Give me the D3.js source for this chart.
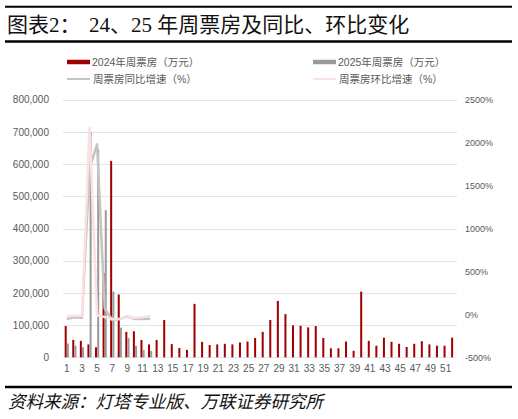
<!DOCTYPE html>
<html>
<head>
<meta charset="utf-8">
<script src="https://cdn.jsdelivr.net/npm/d3@7"></script>
<style>
  body { margin: 0; background: #fff; }
  text { font-family: "Liberation Sans", Arial, "Noto Sans CJK SC", sans-serif; }
</style>
</head>
<body>
<svg id="chart" width="518" height="419"></svg>
<script>
// weeks of the year
var weeks = [1, 2, 3, 4, 5, 6, 7, 8, 9, 10, 11, 12, 13, 14, 15, 16, 17, 18, 19, 20,
  21, 22, 23, 24, 25, 26, 27, 28, 29, 30, 31, 32, 33, 34, 35, 36, 37, 38, 39, 40,
  41, 42, 43, 44, 45, 46, 47, 48, 49, 50, 51, 52];
var weekLabels = [1, 3, 5, 7, 9, 11, 13, 15, 17, 19, 21, 23, 25, 27, 29, 31, 33, 35, 37, 39, 41, 43, 45, 47, 49, 51];

// weekly box office, 万元
var box2024 = [97000, 54000, 51000, 40000, 31000, 262000, 610000, 195000, 79000, 81000,
  54000, 40000, 54000, 116000, 41000, 29000, 23000, 166000, 48000, 38000,
  40000, 42000, 40000, 46000, 49000, 60000, 79000, 116000, 175000, 134000,
  99000, 98000, 93000, 97000, 60000, 28000, 28000, 49000, 20000, 204000,
  51000, 36000, 61000, 48000, 42000, 32000, 42000, 50000, 40000, 36000, 36000, 61000];
var box2025 = [43000, 36000, 31000, 700000, 646000, 457000, 204000, 92000, 60000, 36000, 23000, 20000];

// growth rates, %
var yoyGrowth = [-55, -35, -40, 1700, 1980, 70, -65, -55, -25, -55, -55, -50];
var momGrowth = [-25, -15, -15, 2170, -10, -30, -55, -55, -35, -40, -35, -15];

var leftTicks = [0, 100000, 200000, 300000, 400000, 500000, 600000, 700000, 800000];
var rightTicks = [-500, 0, 500, 1000, 1500, 2000, 2500];

var svg = d3.select("#chart");
var plotLeft = 63, plotRight = 457, plotTop = 99.7, plotBottom = 357.3;

// header
svg.append("line").attr("x1", 5).attr("x2", 512).attr("y1", 6.7).attr("y2", 6.7)
  .style("stroke", "#000").style("stroke-width", 2);
svg.append("line").attr("x1", 5).attr("x2", 512).attr("y1", 41.5).attr("y2", 41.5)
  .style("stroke", "#000").style("stroke-width", 2.5);
svg.append("text").attr("x", 7).attr("y", 32)
  .style("font-family", "'Liberation Serif', 'Noto Sans CJK SC', serif")
  .style("font-size", "21px").style("fill", "#111")
  .text("图表2：");
svg.append("text").attr("x", 89).attr("y", 32)
  .style("font-family", "'Liberation Serif', 'Noto Sans CJK SC', serif")
  .style("font-size", "21px").style("fill", "#111")
  .text("24、25 年周票房及同比、环比变化");

// footer
svg.append("line").attr("x1", 5).attr("x2", 512).attr("y1", 387).attr("y2", 387)
  .style("stroke", "#000").style("stroke-width", 2.5);
svg.append("text").attr("x", 8).attr("y", 408)
  .style("font-family", "'Noto Sans CJK SC', sans-serif")
  .style("font-style", "italic")
  .style("font-size", "17.5px").style("fill", "#111")
  .text("资料来源：灯塔专业版、万联证券研究所");

// scales
var x = d3.scaleBand().domain(weeks).range([plotLeft, plotRight]).paddingInner(0.4).paddingOuter(0.2);
var xInner = d3.scaleBand().domain([0, 1]).range([0, x.bandwidth()]).padding(0.08);
var y = d3.scaleLinear().domain([0, 800000]).range([plotBottom, plotTop]);
var y2 = d3.scaleLinear().domain([-500, 2500]).range([plotBottom, plotTop]);

// left axis with gridlines
var gLeft = svg.append("g").attr("transform", "translate(" + plotLeft + ",0)")
  .call(d3.axisLeft(y).tickValues(leftTicks).tickSizeInner(-(plotRight - plotLeft)).tickSizeOuter(0)
    .tickPadding(14).tickFormat(d3.format(",")));
gLeft.select(".domain").remove();
gLeft.selectAll(".tick line").style("stroke", "#e3e3e3").style("shape-rendering", "crispEdges");
gLeft.selectAll(".tick text").style("font-size", "10px").style("fill", "#595959");

// right axis
var gRight = svg.append("g").attr("transform", "translate(" + plotRight + ",0)")
  .call(d3.axisRight(y2).tickValues(rightTicks).tickSize(0).tickPadding(8)
    .tickFormat(function (d) { return d + "%"; }));
gRight.select(".domain").remove();
gRight.selectAll(".tick text").style("font-size", "9px").style("fill", "#595959");

// bottom axis
var gBottom = svg.append("g").attr("transform", "translate(0," + plotBottom + ")")
  .call(d3.axisBottom(x).tickValues(weekLabels).tickSize(0).tickPadding(8));
gBottom.select(".domain").remove();
gBottom.selectAll(".tick text").style("font-size", "10px").style("fill", "#595959");

// bars
svg.append("g").selectAll("rect").data(box2024).enter().append("rect")
  .attr("x", function (d, i) { return x(weeks[i]) + xInner(0); })
  .attr("y", function (d) { return y(d); })
  .attr("width", xInner.bandwidth())
  .attr("height", function (d) { return plotBottom - y(d); })
  .style("fill", "#a00000");

svg.append("g").selectAll("rect").data(box2025).enter().append("rect")
  .attr("x", function (d, i) { return x(weeks[i]) + xInner(1); })
  .attr("y", function (d) { return y(d); })
  .attr("width", xInner.bandwidth())
  .attr("height", function (d) { return plotBottom - y(d); })
  .style("fill", "#9a9a9a");

// growth lines
var line = d3.line()
  .x(function (d, i) { return x(weeks[i]) + x.bandwidth() / 2; })
  .y(function (d) { return y2(d); });

svg.append("path").datum(yoyGrowth).attr("d", line)
  .style("fill", "none").style("stroke", "#c4c4c4").style("stroke-width", 2.5)
  .style("stroke-linejoin", "round");
svg.append("path").datum(momGrowth).attr("d", line)
  .style("fill", "none").style("stroke", "#fde0e0").style("stroke-width", 2.5)
  .style("stroke-linejoin", "round");

// legend
var legendItems = [
  { label: "2024年周票房（万元）", color: "#a00000", w: 4.5, x: 67, y: 62 },
  { label: "2025年周票房（万元）", color: "#9a9a9a", w: 4.5, x: 313, y: 62 },
  { label: "周票房同比增速（%）", color: "#c4c4c4", w: 2, x: 67, y: 79 },
  { label: "周票房环比增速（%）", color: "#fde0e0", w: 2, x: 313, y: 79 }
];
var legend = svg.append("g").selectAll("g").data(legendItems).enter().append("g");
legend.append("line")
  .attr("x1", function (d) { return d.x; })
  .attr("x2", function (d) { return d.x + 23; })
  .attr("y1", function (d) { return d.y; })
  .attr("y2", function (d) { return d.y; })
  .style("stroke", function (d) { return d.color; })
  .style("stroke-width", function (d) { return d.w; });
legend.append("text")
  .attr("x", function (d) { return d.x + (d.w > 3 ? 25 : 26); })
  .attr("y", function (d) { return d.y; })
  .attr("dy", "0.35em")
  .style("font-size", "10.5px").style("fill", "#595959")
  .text(function (d) { return d.label; });
</script>
</body>
</html>
